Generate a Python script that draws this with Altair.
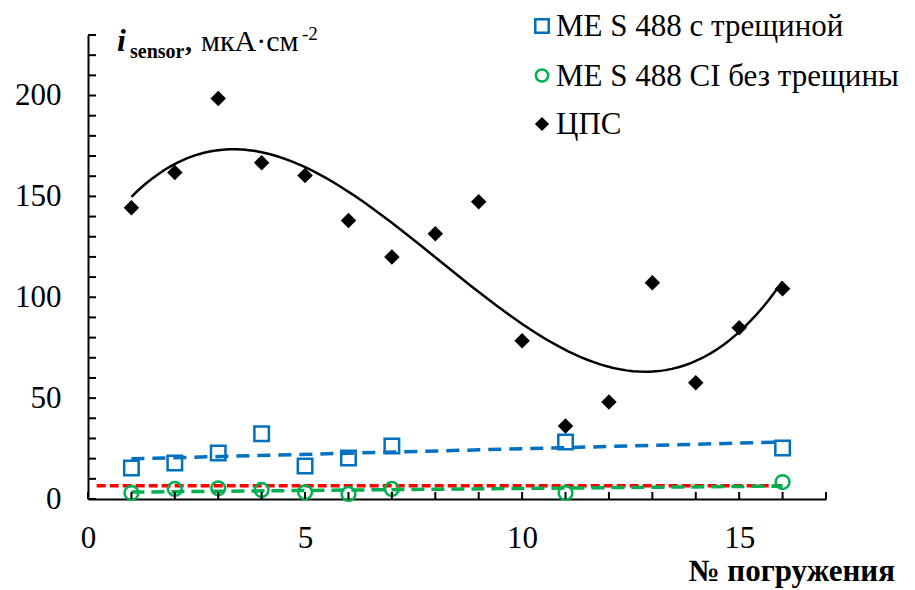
import altair as alt
import pandas as pd

# ---- data ----
cps_x = [1, 2, 3, 4, 5, 6, 7, 8, 9, 10, 11, 12, 13, 14, 15, 16]
cps_y = [144.4, 161.8, 198.5, 166.7, 160.3, 138.0, 120.0, 131.5, 147.4, 78.4, 36.2, 48.1, 107.2, 57.6, 84.9, 104.2]

crack_x = [1, 2, 3, 4, 5, 6, 7, 11, 16]
crack_y = [15.4, 17.8, 22.8, 32.3, 16.4, 20.3, 26.3, 28.3, 25.3]

nocrack_x = [1, 2, 3, 4, 5, 6, 7, 11, 16]
nocrack_y = [3.0, 5.0, 5.3, 4.5, 3.3, 2.5, 5.0, 3.0, 8.4]

red_x = [0.2, 16.05]
red_y = [6.6, 6.6]

legend_labels = ["ME S 488 с трещиной", "ME S 488 CI без трещины", "ЦПС"]

x_tick_values = list(range(0, 18))
y_tick_values = list(range(0, 240, 10))
x_label_values = [0, 5, 10, 15]
y_label_values = [0, 50, 100, 150, 200]

BLUE = "#0070C0"
GREEN = "#00B050"
RED = "#FF0000"
FONT = "Liberation Serif"

W, H = 738, 464

xscale = alt.Scale(domain=[0, 17], nice=False, zero=False)
yscale = alt.Scale(domain=[0, 230], nice=False, zero=False)

xaxis = alt.Axis(values=x_label_values, title=None, grid=False, tickSize=0,
                 labelPadding=24, labelFontSize=31, labelFont=FONT, labelColor="black",
                 domainColor="black", domainWidth=2, labelFlush=False)
yaxis = alt.Axis(values=y_label_values, title=None, grid=False, tickSize=0,
                 labelPadding=27, labelFontSize=31, labelFont=FONT, labelColor="black",
                 domainColor="black", domainWidth=2)


def X(f):
    return alt.X(f, type="quantitative", scale=xscale, axis=xaxis)


def Y(f):
    return alt.Y(f, type="quantitative", scale=yscale, axis=yaxis)


cps_df = pd.DataFrame({"x": cps_x, "y": cps_y})
crack_df = pd.DataFrame({"x": crack_x, "y": crack_y})
nocrack_df = pd.DataFrame({"x": nocrack_x, "y": nocrack_y})
red_df = pd.DataFrame({"x": red_x, "y": red_y})

layers = []

# trend lines
layers.append(alt.Chart(red_df).mark_line(color=RED, strokeWidth=3.5, strokeDash=[9, 4]).encode(x=X("x"), y=Y("y")))
layers.append(alt.Chart(nocrack_df).transform_regression("x", "y", method="linear")
              .mark_line(color=GREEN, strokeWidth=3.5, strokeDash=[13, 7]).encode(x=X("x"), y=Y("y")))
layers.append(alt.Chart(crack_df).transform_regression("x", "y", method="linear")
              .mark_line(color=BLUE, strokeWidth=3.5, strokeDash=[13, 8]).encode(x=X("x"), y=Y("y")))
layers.append(alt.Chart(cps_df).transform_regression("x", "y", method="poly", order=3)
              .mark_line(color="black", strokeWidth=2.5).encode(x=X("x"), y=Y("y")))

# points
layers.append(alt.Chart(crack_df).mark_point(shape="square", size=210, filled=False, color=BLUE,
                                             strokeWidth=2.5, opacity=1).encode(x=X("x"), y=Y("y")))
layers.append(alt.Chart(nocrack_df).mark_point(shape="circle", size=190, filled=False, color=GREEN,
                                               strokeWidth=2.5, opacity=1).encode(x=X("x"), y=Y("y")))
layers.append(alt.Chart(cps_df).mark_point(shape="diamond", size=240, filled=True, color="black",
                                           opacity=1).encode(x=X("x"), y=Y("y")))

# inward ticks
xt_df = pd.DataFrame({"v": x_tick_values})
yt_df = pd.DataFrame({"v": y_tick_values})
layers.append(alt.Chart(xt_df).mark_rule(color="black", strokeWidth=2).encode(
    x=X("v"), y=alt.value(H), y2=alt.value(H - 7)))
layers.append(alt.Chart(yt_df).mark_rule(color="black", strokeWidth=2).encode(
    y=Y("v"), x=alt.value(0), x2=alt.value(8)))

# legend (manual)
leg_shapes = [("square", BLUE, False, 180), ("circle", GREEN, False, 150), ("diamond", "black", True, 200)]
leg_y = [-9, 40.5, 89]
dummy = pd.DataFrame({"a": [0]})
for (shape, col, filled, size), ly, lab in zip(leg_shapes, leg_y, legend_labels):
    if filled:
        m = alt.Chart(dummy).mark_point(shape=shape, size=size, filled=True, color=col, opacity=1)
    else:
        m = alt.Chart(dummy).mark_point(shape=shape, size=size, filled=False, color=col, strokeWidth=2.5, opacity=1)
    layers.append(m.encode(x=alt.value(454), y=alt.value(ly)))
    layers.append(alt.Chart(dummy).mark_text(text=lab, font=FONT, fontSize=31, align="left",
                                             baseline="middle", color="black")
                  .encode(x=alt.value(468), y=alt.value(ly + 1)))


# y title pieces
def txt(t, x, y, size, weight=None, style=None):
    kw = {}
    if weight:
        kw["fontWeight"] = weight
    if style:
        kw["fontStyle"] = style
    return alt.Chart(dummy).mark_text(text=t, font=FONT, fontSize=size, align="left",
                                      baseline="alphabetic", color="black", **kw).encode(
        x=alt.value(x), y=alt.value(y))


layers.append(txt("i", 29, 16, 32, "bold", "italic"))
layers.append(txt("sensor", 42, 22.5, 20, "bold"))
layers.append(txt(",", 97, 16, 28, "bold"))
layers.append(txt("мкА·см", 113, 16, 30))
layers.append(txt("-2", 214, 5, 19))

# x title
layers.append(alt.Chart(dummy).mark_text(text="№ погружения", font=FONT, fontSize=31, fontWeight="bold",
                                         align="right", baseline="alphabetic", color="black")
              .encode(x=alt.value(807), y=alt.value(546)))

chart = alt.layer(*layers).properties(
    width=W, height=H,
    autosize=alt.AutoSizeParams(type="none"),
    padding={"left": 80, "top": 27, "right": 80, "bottom": 90},
).configure_view(stroke=None)

chart.save("out.html", embed_options={"renderer": "svg", "actions": False})
